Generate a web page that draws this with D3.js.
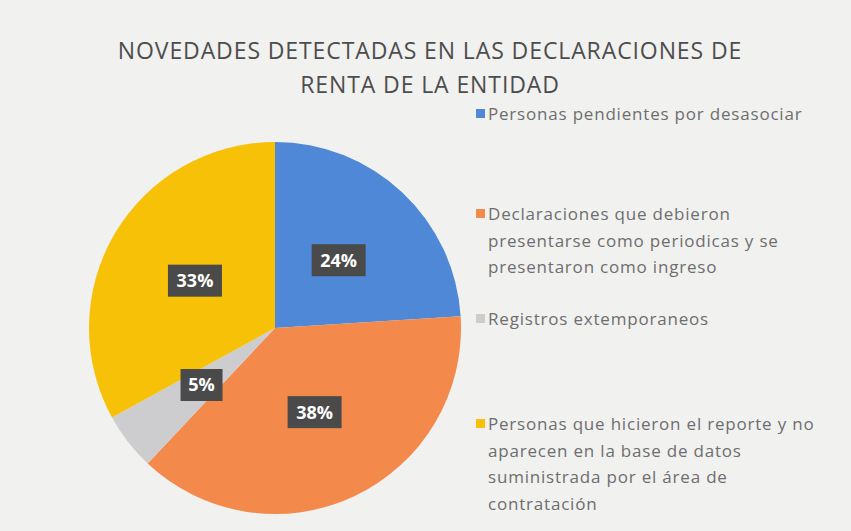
<!DOCTYPE html>
<html>
<head>
<meta charset="utf-8">
<script src="https://cdn.jsdelivr.net/npm/d3@7"></script>
<style>
  body { margin: 0; background: #efefef; }
  svg { display: block; }
</style>
</head>
<body>
<div id="chart"></div>
<script>
// Chart values
var categories = [
    "Personas pendientes por desasociar",
    "Declaraciones que debieron presentarse como periodicas y se presentaron como ingreso",
    "Registros extemporaneos",
    "Personas que hicieron el reporte y no aparecen en la base de datos suministrada por el área de contratación"
]
var values = [24, 38, 5, 33]
// Legend lines as wrapped in the picture
var legendLines = [
    ["Personas pendientes por desasociar"],
    ["Declaraciones que debieron", "presentarse como periodicas y se", "presentaron como ingreso"],
    ["Registros extemporaneos"],
    ["Personas que hicieron el reporte y no", "aparecen en la base de datos", "suministrada por el área de", "contratación"]
]
var titleLines = ["NOVEDADES DETECTADAS EN LAS DECLARACIONES DE", "RENTA DE LA ENTIDAD"]

var width = 851
var height = 531
var color = ["#4f88d6", "#f38a4c", "#cdcdcf", "#f7c108"]

var svg = d3.select('#chart')
    .append('svg')
    .attr('width', width)
    .attr('height', height)

// Background
svg.append('rect')
    .attr('width', width)
    .attr('height', height)
    .attr('fill', '#f1f1f0')

// Title
svg.append('text')
    .attr('x', 430)
    .attr('y', 59)
    .attr('text-anchor', 'middle')
    .attr('fill', '#4d4d4d')
    .style('font-family', 'Open Sans, sans-serif')
    .style('font-size', '23px')
    .style('letter-spacing', '0.9px')
    .selectAll('tspan')
    .data(titleLines)
    .join('tspan')
    .attr('x', 430)
    .attr('dy', (d, i) => i === 0 ? 0 : 34)
    .text(d => d)

// Pie
var cx = 275, cy = 328, radius = 186
var pie = d3.pie().sort(null).value(d => d)
var arc = d3.arc().innerRadius(0).outerRadius(radius)
var labelArc = d3.arc().innerRadius(radius * 0.5).outerRadius(radius * 0.5)

var pieGroup = svg.append('g')
    .attr('transform', `translate(${cx}, ${cy})`)

var arcs = pie(values)

pieGroup.selectAll('path')
    .data(arcs)
    .join('path')
    .attr('d', arc)
    .attr('fill', (d, i) => color[i])

// Data labels in dark boxes
var labels = pieGroup.selectAll('g.label')
    .data(arcs)
    .join('g')
    .attr('class', 'label')
    .attr('transform', d => `translate(${labelArc.centroid(d)})`)

labels.append('rect')
    .attr('x', d => d.data < 10 ? -21 : -27)
    .attr('y', -16)
    .attr('width', d => d.data < 10 ? 42 : 54)
    .attr('height', 32)
    .attr('fill', '#4a4a4a')

labels.append('text')
    .attr('text-anchor', 'middle')
    .attr('dy', '0.36em')
    .attr('fill', '#ffffff')
    .style('font-family', 'Open Sans, sans-serif')
    .style('font-size', '18px')
    .style('font-weight', 'bold')
    .text(d => d.data + '%')

// Legend
var legendY = [120, 220, 325, 430]
var legend = svg.append('g')

categories.forEach((c, v) => {
    var row = legend.append('g')
        .attr('transform', `translate(476, ${legendY[v]})`)

    row.append('rect')
        .attr('x', 0)
        .attr('y', -11)
        .attr('width', 9)
        .attr('height', 9)
        .attr('fill', color[v])

    row.append('text')
        .attr('fill', '#6e6e6e')
        .style('font-family', 'Open Sans, sans-serif')
        .style('font-size', '17px')
        .style('letter-spacing', '0.8px')
        .selectAll('tspan')
        .data(legendLines[v])
        .join('tspan')
        .attr('x', 12)
        .attr('dy', (d, i) => i === 0 ? 0 : 26.5)
        .text(d => d)
})
</script>
</body>
</html>
